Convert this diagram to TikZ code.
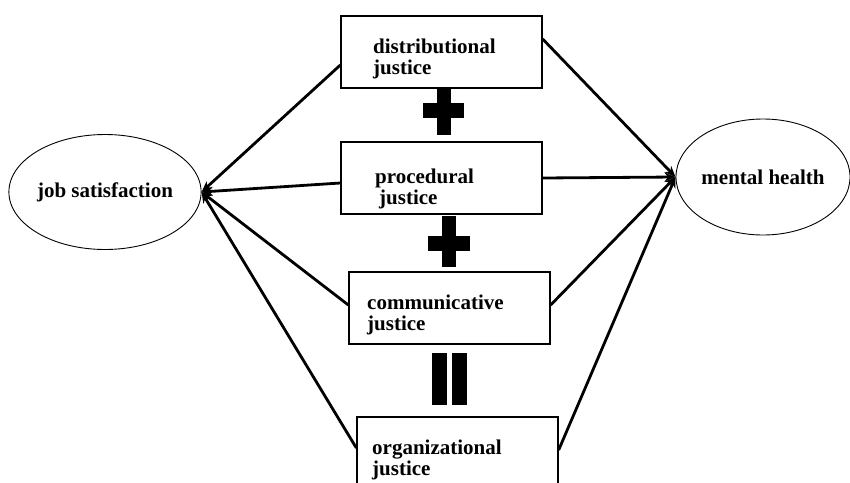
\documentclass[tikz,border=0pt]{standalone}
\usepackage{fontspec}
\setmainfont{Liberation Serif}
\usetikzlibrary{arrows.meta, positioning, shapes.geometric}
\tikzset{
  >={Stealth[length=11pt, width=9pt]},
  part/.style={draw, line width=1.3pt, minimum width=201pt, minimum height=72pt, inner sep=0pt},
  goal/.style={ellipse, draw, line width=0.9pt, inner sep=0pt,
    font=\bfseries\fontsize{21}{20}\selectfont},
  lbl/.style={anchor=base west, align=left, inner sep=0pt,
    font=\bfseries\fontsize{21}{21}\selectfont},
  link/.style={->, line width=2.8pt},
}

\begin{document}
\begin{tikzpicture}[x=1pt, y=-1pt]
  \useasboundingbox (0,0) rectangle (850,482);

  % The two outcomes.
  \node[goal, minimum width=184pt, minimum height=115pt] (job) at (105,192) {job satisfaction};
  \node[goal, minimum width=170pt, minimum height=116pt] (mental) at (763,177) {mental health};

  % The three kinds of justice and their sum (labels sit on their last line).
  \node[part] (dist) at (441.5,52) {};
  \node[part] (proc) at (441.5,178) {};
  \node[part] (comm) at (449.5,308) {};
  \node[part] (org) at (457.5,453) {};
  \node[lbl] (distL) at (373,74) {distributional\\justice};
  \node[lbl] (procL) at (375,204) {procedural\\\hspace{4pt}justice};
  \node[lbl] (commL) at (367,330) {communicative\\justice};
  \node[lbl] (orgL) at (372,475) {organizational\\justice};

  % Plus, plus, equals.
  \fill (437,88) rectangle (451,135);
  \fill (423,103) rectangle (464,118);
  \fill (442,216) rectangle (456,267);
  \fill (428,236) rectangle (470,251);
  \fill (432,353) rectangle (447,405);
  \fill (452,353) rectangle (467,405);

  % Every box feeds both outcomes.
  \draw[link] ([yshift=-13pt]dist.west) -- (job.east);
  \draw[link] ([yshift=-5pt]proc.west) -- (job.east);
  \draw[link] ([yshift=3pt]comm.west) -- (job.east);
  \draw[link] ([yshift=5pt]org.west) -- (job.east);
  \draw[link] ([yshift=13pt]dist.east) -- (mental.west);
  \draw[link] (proc.east) -- (mental.west);
  \draw[link] ([yshift=3pt]comm.east) -- (mental.west);
  \draw[link] ([yshift=3pt]org.east) -- (mental.west);
\end{tikzpicture}
\end{document}
